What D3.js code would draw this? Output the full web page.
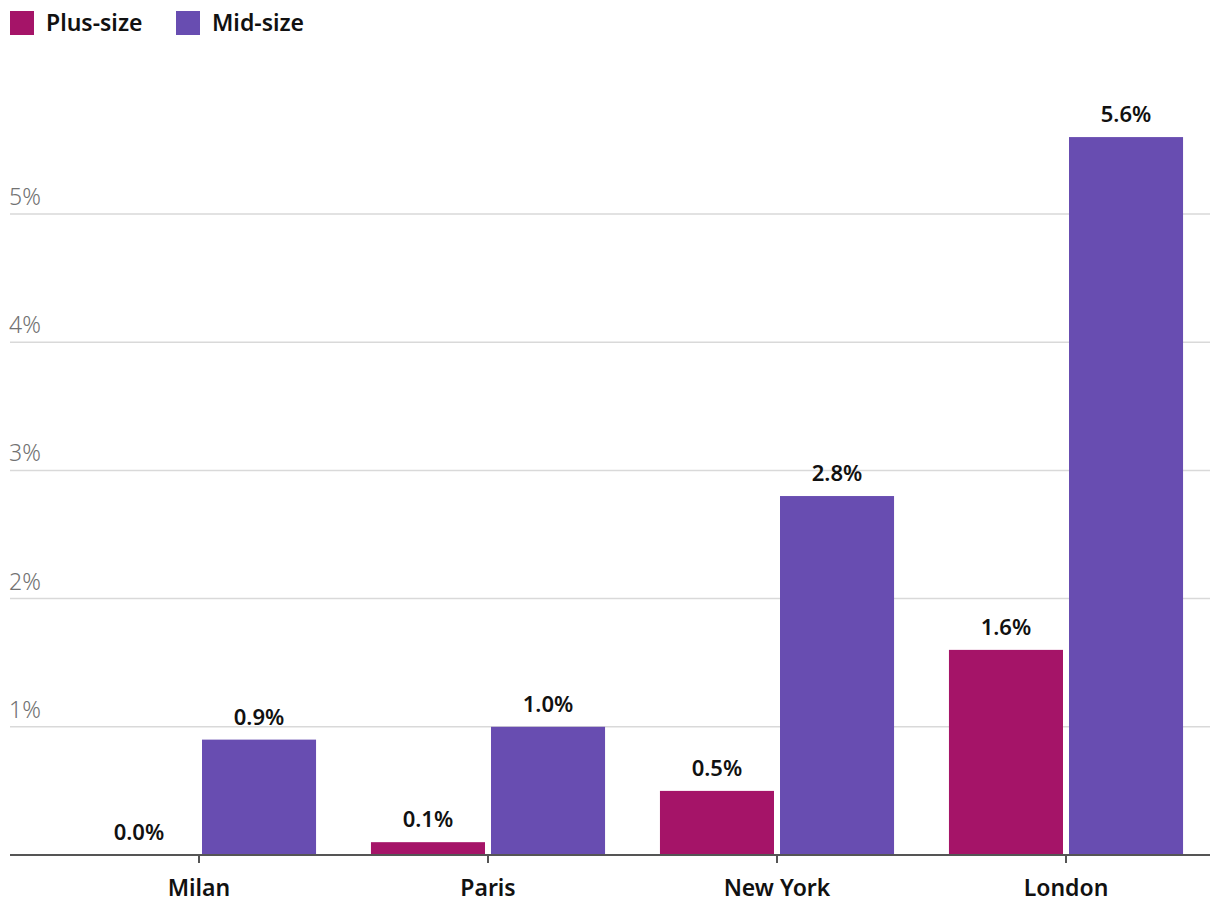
<!DOCTYPE html>
<html><head><meta charset="utf-8">
<script src="https://cdn.jsdelivr.net/npm/d3@7"></script>
<style>
body{margin:0;background:#fff;}
svg text{font-family:"Noto Sans",Lato,sans-serif;}
</style></head>
<body><svg id="c" width="1220" height="920"></svg>
<script>
const categories = ["Milan","Paris","New York","London"];
const seriesNames = ["Plus-size","Mid-size"];
const plusSize = [0.0, 0.1, 0.5, 1.6];
const midSize = [0.9, 1.0, 2.8, 5.6];
const yTicks = [1,2,3,4,5];
const colors = ["#a51468","#684db1"];

const svg = d3.select("#c");
const series = [plusSize, midSize];

const x = d3.scaleBand().domain(categories).range([54.5,1210.5]).paddingInner(0.19).paddingOuter(0.095);
const x1 = d3.scaleBand().domain(seriesNames).range([0,x.bandwidth()]).paddingInner(0.05);
const y = d3.scaleLinear().domain([0,5]).range([855,214]);

// gridlines
const g = svg.append("g");
g.selectAll("line.grid").data(yTicks).join("line")
  .attr("x1",10).attr("x2",1210).attr("y1",d=>y(d)).attr("y2",d=>y(d))
  .attr("stroke","#d9d9d9").attr("stroke-width",1.5);
g.selectAll("text.yl").data(yTicks).join("text")
  .attr("x",9).attr("y",d=>y(d)-9)
  .attr("fill","#727272").attr("font-size",23).attr("font-weight",300)
  .text(d=>d+"%");

// bars
categories.forEach((c,i)=>{
  seriesNames.forEach((s,j)=>{
    const v = series[j][i];
    const bx = x(c)+x1(s);
    svg.append("rect").attr("x",bx).attr("y",y(v)).attr("width",x1.bandwidth())
      .attr("height",y(0)-y(v)).attr("fill",colors[j]);
    svg.append("text").attr("x",bx+x1.bandwidth()/2).attr("y",y(v)-15)
      .attr("text-anchor","middle").attr("font-size",22).attr("font-weight",600)
      .attr("fill","#111").text(v.toFixed(1)+"%");
  });
});

// x axis
svg.append("line").attr("x1",10).attr("x2",1210).attr("y1",855).attr("y2",855)
  .attr("stroke","#555").attr("stroke-width",2);
const xa = svg.append("g");
xa.selectAll("line").data(categories).join("line")
  .attr("x1",d=>x(d)+x.bandwidth()/2).attr("x2",d=>x(d)+x.bandwidth()/2)
  .attr("y1",855).attr("y2",863).attr("stroke","#555").attr("stroke-width",2);
xa.selectAll("text").data(categories).join("text")
  .attr("x",d=>x(d)+x.bandwidth()/2).attr("y",896)
  .attr("text-anchor","middle").attr("font-size",23).attr("font-weight",600)
  .attr("fill","#111").text(d=>d);

// legend
const legX = [10,176];
const leg = svg.append("g");
seriesNames.forEach((s,j)=>{
  leg.append("rect").attr("x",legX[j]).attr("y",11).attr("width",24).attr("height",24).attr("fill",colors[j]);
  leg.append("text").attr("x",legX[j]+36).attr("y",31).attr("font-size",23).attr("font-weight",600)
    .attr("fill","#111").text(s);
});
</script></body></html>
